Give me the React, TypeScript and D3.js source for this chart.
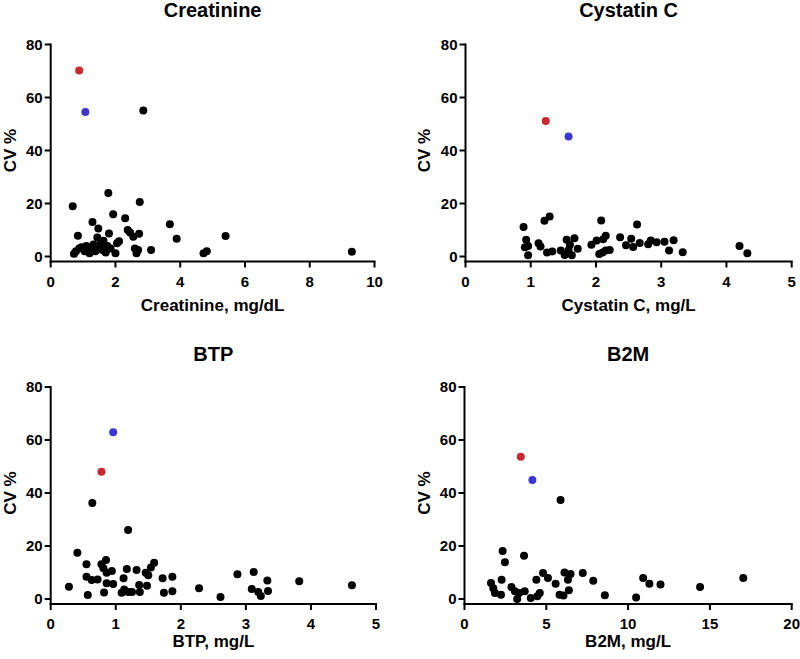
import React from "react";
import * as d3 from "d3";

type Pt = [number, number];

// ---- Data (x value, CV %) ----
const creatinineBlack: Pt[] = [
  [0.68, 19.0], [0.84, 7.8], [0.72, 1.0], [0.78, 2.0], [0.88, 3.0], [0.95, 3.5], [1.05, 2.0],
  [1.1, 4.0], [1.2, 1.2], [1.25, 2.5], [1.29, 13.0], [1.32, 4.5], [1.38, 2.0], [1.44, 7.2],
  [1.47, 10.6], [1.5, 3.5], [1.55, 5.0], [1.6, 2.5], [1.63, 5.9], [1.7, 1.5], [1.75, 4.0],
  [1.78, 24.0], [1.8, 8.7], [1.85, 3.0], [1.93, 15.9], [2.0, 1.2], [2.05, 5.0], [2.11, 5.8],
  [2.3, 14.4], [2.38, 10.0], [2.45, 9.1], [2.55, 7.5], [2.6, 3.0], [2.65, 1.2], [2.7, 2.5],
  [2.73, 8.6], [2.75, 20.6], [2.86, 55.1], [3.1, 2.5], [3.68, 12.2], [3.89, 6.7],
  [4.72, 1.2], [4.82, 2.0], [5.4, 7.7], [9.3, 1.8],
];
const creatinineRed: Pt[] = [[0.88, 70.2]];
const creatinineBlue: Pt[] = [[1.07, 54.5]];

const cystatinBlack: Pt[] = [
  [0.89, 11.1], [0.93, 6.3], [0.91, 3.5], [0.96, 4.0], [0.96, 0.5], [1.12, 5.0], [1.15, 3.8],
  [1.21, 13.5], [1.29, 15.1], [1.25, 1.5], [1.33, 1.9], [1.46, 2.3], [1.52, 0.6], [1.55, 6.3],
  [1.6, 4.4], [1.58, 2.5], [1.63, 0.5], [1.67, 6.9], [1.72, 2.9], [1.93, 4.4], [2.01, 6.0],
  [2.08, 13.6], [2.11, 6.5], [2.15, 7.8], [2.05, 0.9], [2.1, 1.5], [2.15, 2.3], [2.21, 2.5],
  [2.37, 7.3], [2.46, 4.2], [2.54, 6.7], [2.57, 3.6], [2.63, 12.1], [2.67, 5.1], [2.8, 4.6],
  [2.84, 6.0], [2.93, 5.4], [3.05, 5.6], [3.12, 2.3], [3.19, 6.1], [3.33, 1.6], [4.2, 4.0],
  [4.32, 1.2],
];
const cystatinRed: Pt[] = [[1.23, 51.1]];
const cystatinBlue: Pt[] = [[1.58, 45.3]];

const btpBlack: Pt[] = [
  [0.64, 36.2], [1.19, 26.0], [0.41, 17.5], [0.28, 4.6], [0.55, 13.1], [0.55, 8.4], [0.57, 1.5],
  [0.63, 7.2], [0.72, 7.4], [0.78, 13.1], [0.85, 14.7], [0.81, 11.6], [0.86, 9.9], [0.94, 10.6],
  [0.86, 5.9], [0.96, 5.7], [0.82, 2.5], [1.12, 7.8], [1.17, 11.3], [1.13, 3.6], [1.09, 2.4],
  [1.19, 2.6], [1.25, 2.6], [1.32, 10.9], [1.36, 5.3], [1.37, 2.6], [1.46, 9.9], [1.5, 9.0],
  [1.48, 5.0], [1.54, 11.9], [1.59, 13.7], [1.72, 7.8], [1.74, 2.4], [1.87, 8.4], [1.87, 2.9],
  [2.28, 4.1], [2.61, 0.8], [2.87, 9.3], [3.12, 10.2], [3.33, 7.0], [3.09, 3.8], [3.19, 2.6],
  [3.23, 1.1], [3.34, 3.0], [3.82, 6.7], [4.63, 5.2],
];
const btpRed: Pt[] = [[0.78, 48.0]];
const btpBlue: Pt[] = [[0.96, 62.9]];

const b2mBlack: Pt[] = [
  [5.87, 37.4], [2.33, 18.1], [2.47, 13.9], [3.64, 16.3], [1.62, 6.0], [1.76, 4.1], [1.86, 2.3],
  [2.27, 7.3], [2.23, 1.6], [2.87, 4.5], [3.08, 2.9], [3.22, 0.0], [3.34, 2.3], [3.68, 2.9],
  [4.05, 0.4], [4.39, 7.3], [4.6, 2.3], [4.45, 1.0], [4.8, 9.8], [5.1, 7.9], [5.57, 5.8],
  [5.81, 1.6], [6.05, 1.3], [6.11, 10.0], [6.32, 7.3], [6.48, 9.4], [6.38, 3.3], [7.23, 9.8],
  [7.87, 6.9], [8.58, 1.4], [10.49, 0.6], [10.92, 7.9], [11.3, 5.8], [11.98, 5.5],
  [14.4, 4.5], [17.04, 7.9],
];
const b2mRed: Pt[] = [[3.44, 53.7]];
const b2mBlue: Pt[] = [[4.15, 44.9]];

const yTicks = [0, 20, 40, 60, 80];
const creatinineTicks = [0, 2, 4, 6, 8, 10];
const fiveTicks = [0, 1, 2, 3, 4, 5];
const b2mTicks = [0, 5, 10, 15, 20];

const FONT = "'Liberation Sans', Arial, Helvetica, sans-serif";
const RED = "#c8282e";
const BLUE = "#3d37d2";

interface PanelProps {
  title: string;
  xLabel: string;
  xMax: number;
  xTicks: number[];
  black: Pt[];
  red: Pt[];
  blue: Pt[];
  x0: number;
  x1: number;
  yTop: number;
  yZero: number;
  titleBaseline: number;
  xLabelBaseline: number;
  yLabelX: number;
}

function Panel(p: PanelProps) {
  const x = d3.scaleLinear().domain([0, p.xMax]).range([p.x0, p.x1]);
  const y = d3.scaleLinear().domain([0, 80]).range([p.yZero, p.yTop]);
  const axisY = p.yZero + 5;
  const r = 4;
  const cx = (p.x0 + p.x1) / 2;
  const cy = (p.yTop + p.yZero) / 2;
  return (
    <g fontFamily={FONT} fontWeight="bold" fill="#000">
      <text x={cx} y={p.titleBaseline} textAnchor="middle" fontSize={20}>
        {p.title}
      </text>
      {/* y axis */}
      <line x1={p.x0} x2={p.x0} y1={y(80) - 1} y2={axisY + 1} stroke="#000" strokeWidth={2} />
      {yTicks.map((t) => (
        <g key={"y" + t}>
          <line x1={p.x0 - 6} x2={p.x0} y1={y(t)} y2={y(t)} stroke="#000" strokeWidth={2} />
          <text x={p.x0 - 8} y={y(t)} dy="0.36em" textAnchor="end" fontSize={15}>
            {t}
          </text>
        </g>
      ))}
      {/* x axis */}
      <line x1={p.x0 - 1} x2={p.x1 + 1} y1={axisY} y2={axisY} stroke="#000" strokeWidth={2} />
      {p.xTicks.map((t) => (
        <g key={"x" + t}>
          <line x1={x(t)} x2={x(t)} y1={axisY} y2={axisY + 6} stroke="#000" strokeWidth={2} />
          <text x={x(t)} y={axisY + 25} textAnchor="middle" fontSize={15}>
            {t}
          </text>
        </g>
      ))}
      <text x={cx} y={p.xLabelBaseline} textAnchor="middle" fontSize={17}>
        {p.xLabel}
      </text>
      <text
        transform={`translate(${p.yLabelX},${cy}) rotate(-90)`}
        textAnchor="middle"
        fontSize={17}
      >
        CV %
      </text>
      {p.black.map((d, i) => (
        <circle key={"b" + i} cx={x(d[0])} cy={y(d[1])} r={r} fill="#000" />
      ))}
      {p.red.map((d, i) => (
        <circle key={"r" + i} cx={x(d[0])} cy={y(d[1])} r={r} fill={RED} />
      ))}
      {p.blue.map((d, i) => (
        <circle key={"u" + i} cx={x(d[0])} cy={y(d[1])} r={r} fill={BLUE} />
      ))}
    </g>
  );
}

export default function App() {
  return (
    <svg
      width={800}
      height={659}
      style={{ position: "absolute", left: 0, top: 0, background: "#fff" }}
    >
      <rect width={800} height={659} fill="#fff" />
      <Panel
        title="Creatinine"
        xLabel="Creatinine, mg/dL"
        xMax={10}
        xTicks={creatinineTicks}
        black={creatinineBlack}
        red={creatinineRed}
        blue={creatinineBlue}
        x0={50.7}
        x1={374.5}
        yTop={44.5}
        yZero={256.5}
        titleBaseline={17}
        xLabelBaseline={311}
        yLabelX={16}
      />
      <Panel
        title="Cystatin C"
        xLabel="Cystatin C, mg/L"
        xMax={5}
        xTicks={fiveTicks}
        black={cystatinBlack}
        red={cystatinRed}
        blue={cystatinBlue}
        x0={465.5}
        x1={791.7}
        yTop={44.5}
        yZero={256.5}
        titleBaseline={17}
        xLabelBaseline={311}
        yLabelX={430}
      />
      <Panel
        title="BTP"
        xLabel="BTP, mg/L"
        xMax={5}
        xTicks={fiveTicks}
        black={btpBlack}
        red={btpRed}
        blue={btpBlue}
        x0={50.7}
        x1={376}
        yTop={387}
        yZero={599}
        titleBaseline={361}
        xLabelBaseline={647}
        yLabelX={16}
      />
      <Panel
        title="B2M"
        xLabel="B2M, mg/L"
        xMax={20}
        xTicks={b2mTicks}
        black={b2mBlack}
        red={b2mRed}
        blue={b2mBlue}
        x0={464.5}
        x1={791.7}
        yTop={387}
        yZero={599}
        titleBaseline={361}
        xLabelBaseline={647}
        yLabelX={430}
      />
    </svg>
  );
}
